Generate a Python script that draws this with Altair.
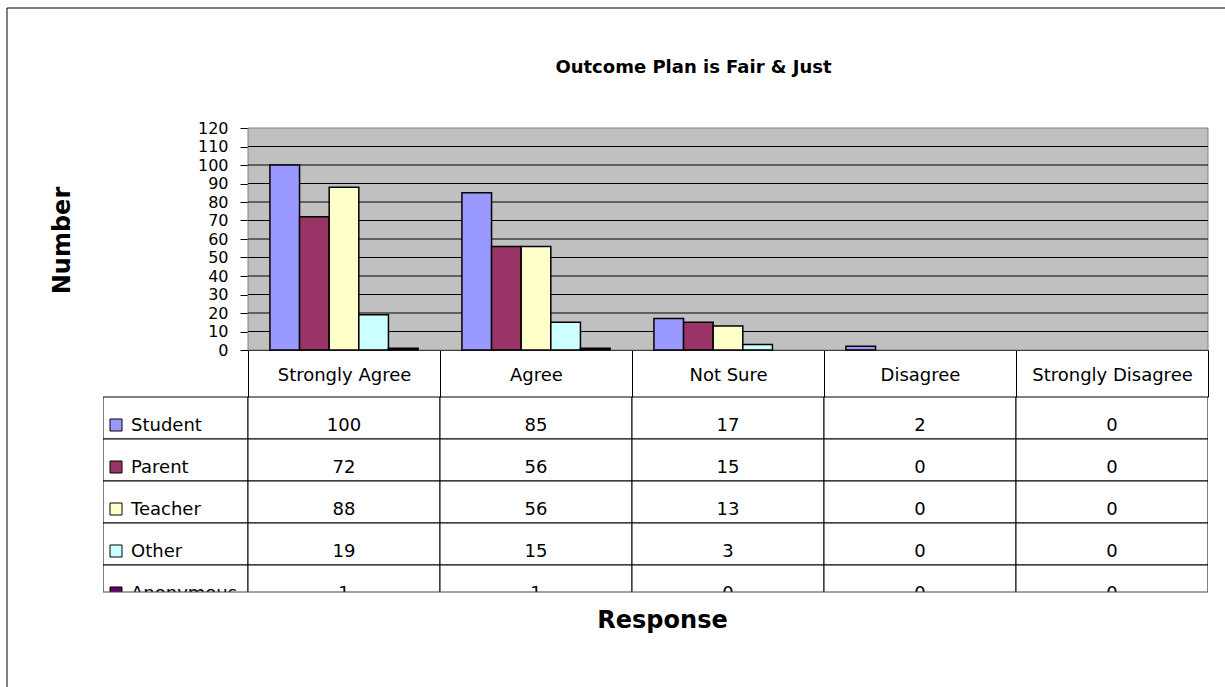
import altair as alt
import pandas as pd

# ---- data -------------------------------------------------------------
responses = ["Strongly Agree", "Agree", "Not Sure", "Disagree", "Strongly Disagree"]
series = ["Student", "Parent", "Teacher", "Other", "Anonymous"]
student = [100, 85, 17, 2, 0]
parent = [72, 56, 15, 0, 0]
teacher = [88, 56, 13, 0, 0]
other = [19, 15, 3, 0, 0]
anonymous = [1, 1, 0, 0, 0]
colors = ["#9999FF", "#993366", "#FFFFCC", "#CCFFFF", "#660066"]
y_ticks = [0, 10, 20, 30, 40, 50, 60, 70, 80, 90, 100, 110, 120]
grid_values = [10, 20, 30, 40, 50, 60, 70, 80, 90, 100, 110]

records = []
for name, vals in zip(series, [student, parent, teacher, other, anonymous]):
    for resp, v in zip(responses, vals):
        records.append({"series": name, "response": resp, "value": v})
df = pd.DataFrame(records)
legend_df = pd.DataFrame({"series": series})
grid_df = pd.DataFrame({"value": grid_values})
one_row = alt.Data(values=[{}])

# ---- layout -----------------------------------------------------------
FONT = "DejaVu Sans"
W, H = 1105, 464          # bar area + data table below it
LEG_W = 145               # legend column of the data table
VAL_H = 222               # height of the value (bar) area
HEAD_H = 47               # header row with the response names
ROW_H = 42                # one table row
ROW_TOP = VAL_H + HEAD_H

x_scale = alt.Scale(domain=responses, range=[LEG_W, W], paddingInner=0, paddingOuter=0)
y_scale = alt.Scale(domain=[0, 120], range=[VAL_H, 0], nice=False, zero=True)
row_scale = alt.Scale(domain=series, range=[ROW_TOP, ROW_TOP + ROW_H * len(series)],
                      paddingInner=0, paddingOuter=0)
color_scale = alt.Scale(domain=series, range=colors)

x_axis = alt.Axis(
    orient="bottom", offset=-(H - VAL_H), tickBand="extent", tickSize=HEAD_H,
    tickColor="black", tickWidth=1, domainColor="black", domainWidth=1,
    labelAngle=0, labelFont=FONT, labelFontSize=18, labelColor="black",
    labelPadding=-22, labelBaseline="middle", labelFlush=False, labelOverlap=False,
    grid=False, title="Response", titleFont=FONT, titleFontSize=24,
    titleFontWeight="bold", titleColor="black", titleX=559, titleY=270,
    titleBaseline="middle", titleAlign="center",
)
y_axis = alt.Axis(
    offset=-LEG_W, values=y_ticks, grid=False, tickSize=8, tickColor="black",
    domainColor="black", labelFont=FONT, labelFontSize=16, labelColor="black",
    labelPadding=12, labelFlush=False, labelOverlap=False, labelSeparation=0,
    title="Number", titleFont=FONT, titleFontSize=24, titleFontWeight="bold",
    titleColor="black", titleX=-186, titleY=112, titleAngle=-90,
    titleBaseline="middle", titleAlign="center",
)

# ---- value area -------------------------------------------------------
bg = alt.Chart(one_row).mark_rect(fill="#C0C0C0", stroke="#808080", strokeWidth=1).encode(
    x=alt.value(LEG_W), x2=alt.value(W),
    y=alt.Y(datum=0, scale=y_scale, axis=y_axis), y2=alt.Y2(datum=120),
)
grid = alt.Chart(grid_df).mark_rule(color="black", strokeWidth=1).encode(
    y=alt.Y("value:Q", scale=y_scale, axis=y_axis), x=alt.value(LEG_W), x2=alt.value(W),
)
bars = alt.Chart(df).transform_filter("datum.value > 0").mark_bar(
    stroke="black", strokeWidth=1.5
).encode(
    x=alt.X("response:N", scale=x_scale, sort=responses, axis=x_axis),
    xOffset=alt.XOffset("series:N", sort=series,
                        scale=alt.Scale(domain=series, paddingInner=0, paddingOuter=0.74)),
    y=alt.Y("value:Q", scale=y_scale, axis=y_axis),
    color=alt.Color("series:N", scale=color_scale, legend=None),
)
value_area = alt.layer(bg, grid, bars)

# ---- data table -------------------------------------------------------
row_y = alt.Y("series:N", scale=row_scale, sort=series, axis=None)
col_x = alt.X("response:N", sort=responses)

legend_cells = alt.Chart(legend_df).mark_rect(
    fill="white", stroke="black", strokeWidth=1, clip=True
).encode(x=alt.value(0), x2=alt.value(LEG_W), y=row_y)

value_cells = alt.Chart(df).mark_rect(
    fill="white", stroke="black", strokeWidth=1, clip=True
).encode(x=col_x, y=row_y)

value_text = alt.Chart(df).mark_text(
    font=FONT, fontSize=18, color="black", baseline="middle", dy=8, clip=True
).encode(x=col_x, y=row_y, text=alt.Text("value:Q"))

swatches = alt.Chart(legend_df).mark_square(
    size=144, filled=True, opacity=1, stroke="black", strokeWidth=1, yOffset=7, clip=True
).encode(
    x=alt.value(13), y=row_y,
    color=alt.Color("series:N", scale=color_scale, legend=None),
)
legend_text = alt.Chart(legend_df).mark_text(
    font=FONT, fontSize=18, color="black", align="left", baseline="middle", dy=8, clip=True
).encode(x=alt.value(28), y=row_y, text="series:N")

bottom_edge = alt.Chart(one_row).mark_rule(color="#444444", strokeWidth=1).encode(
    x=alt.value(0), x2=alt.value(W), y=alt.value(H)
)
table = alt.layer(legend_cells, value_cells, value_text, swatches, legend_text, bottom_edge)

# ---- outer frame (left and top edges) ----------------------------------
frame_left = alt.Chart(one_row).mark_rule(color="black", strokeWidth=1).encode(
    x=alt.value(-96), y=alt.value(-120), y2=alt.value(H + 95)
)
frame_top = alt.Chart(one_row).mark_rule(color="black", strokeWidth=1).encode(
    x=alt.value(-96), x2=alt.value(W + 17), y=alt.value(-120)
)

# the title sits below the top frame edge, which bounds the group
chart = alt.layer(value_area, table, frame_left, frame_top).resolve_scale(
    y="independent"
).properties(
    width=W,
    height=H,
    padding={"left": 103, "top": 128, "right": 17, "bottom": 95},
    autosize=alt.AutoSizeParams(type="none"),
    background="white",
    title=alt.TitleParams(
        "Outcome Plan is Fair & Just", font=FONT, fontSize=18, fontWeight="bold",
        color="black", anchor="middle", dx=38, offset=-69,
    ),
).configure_view(stroke=None).configure_axis(labelOverlap=False)

chart.save("out.html", embed_options={"renderer": "svg", "actions": False})
